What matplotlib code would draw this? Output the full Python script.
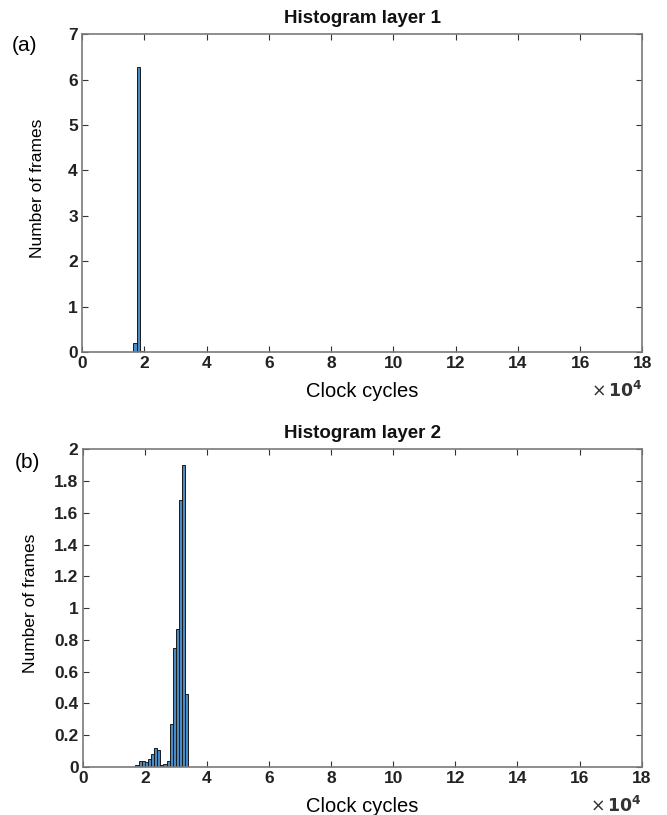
import numpy as np
import matplotlib
matplotlib.use("Agg")
import matplotlib.pyplot as plt

# histogram data (x in units of 1e4 clock cycles)
layer1_start = 1.65
layer1_width = 0.11
layer1_counts = [0.2, 6.28, 0.03]

layer2_start = 1.70
layer2_width = 0.10
layer2_counts = [0.01, 0.04, 0.04, 0.03, 0.05, 0.08, 0.12, 0.11, 0.01,
                 0.02, 0.04, 0.27, 0.75, 0.87, 1.68, 1.90, 0.46]

x_ticks = [0, 2, 4, 6, 8, 10, 12, 14, 16, 18]
y_ticks_1 = [0, 1, 2, 3, 4, 5, 6, 7]
y_ticks_2 = [0, 0.2, 0.4, 0.6, 0.8, 1, 1.2, 1.4, 1.6, 1.8, 2]
y_ticklabels_2 = ["0", "0.2", "0.4", "0.6", "0.8", "1", "1.2", "1.4", "1.6", "1.8", "2"]

plt.rcParams['font.family'] = ['Liberation Sans', 'DejaVu Sans']

bar_color = '#4a8bc4'
spine_color = '#7a7a7a'

fig = plt.figure(figsize=(6.67, 8.15), dpi=100)
ax1 = fig.add_axes([0.123, 0.568, 0.840, 0.390])
ax2 = fig.add_axes([0.124, 0.0589, 0.838, 0.390])


def style_axes(ax, title, yticks, yticklabels=None, ymax=7, ylab_x=-0.07):
    ax.set_xlim(0, 18)
    ax.set_ylim(0, ymax)
    ax.set_xticks(x_ticks)
    ax.set_xticklabels([str(t) for t in x_ticks], fontsize=12.5, fontweight='bold',
                       color='#222222')
    ax.set_yticks(yticks)
    if yticklabels is None:
        yticklabels = [str(t) for t in yticks]
    ax.set_yticklabels(yticklabels, fontsize=12.5, fontweight='bold', color='#222222')
    ax.tick_params(direction='in', top=True, right=True, length=4,
                   color='#333333', width=0.8, pad=3)
    for s in ax.spines.values():
        s.set_color(spine_color)
        s.set_linewidth(1.2)
    ax.set_title(title, fontsize=13.5, fontweight='bold', pad=8, color='#111111')
    ax.set_xlabel('Clock cycles', fontsize=14.5)
    ax.xaxis.set_label_coords(0.5, -0.095)
    ax.set_ylabel('Number of frames', fontsize=12.5)
    ax.yaxis.set_label_coords(ylab_x, 0.515)
    ax.text(1.0, -0.088, r'$\times\,\mathbf{10^4}$', transform=ax.transAxes,
            ha='right', va='top', fontsize=12.5, color='#333333')


# layer 1
edges1 = layer1_start + layer1_width * np.arange(len(layer1_counts))
ax1.bar(edges1, layer1_counts, width=layer1_width, align='edge',
        color=bar_color, edgecolor='#1a1a1a', linewidth=0.7)
style_axes(ax1, 'Histogram layer 1', y_ticks_1, ymax=7, ylab_x=-0.066)

# layer 2
edges2 = layer2_start + layer2_width * np.arange(len(layer2_counts))
ax2.bar(edges2, layer2_counts, width=layer2_width, align='edge',
        color=bar_color, edgecolor='#1a1a1a', linewidth=0.7)
style_axes(ax2, 'Histogram layer 2', y_ticks_2, y_ticklabels_2, ymax=2, ylab_x=-0.080)

fig.text(0.018, 0.944, '(a)', fontsize=15, ha='left', va='center')
fig.text(0.022, 0.432, '(b)', fontsize=15, ha='left', va='center')

fig.savefig('out.png', dpi=100, facecolor='white')
